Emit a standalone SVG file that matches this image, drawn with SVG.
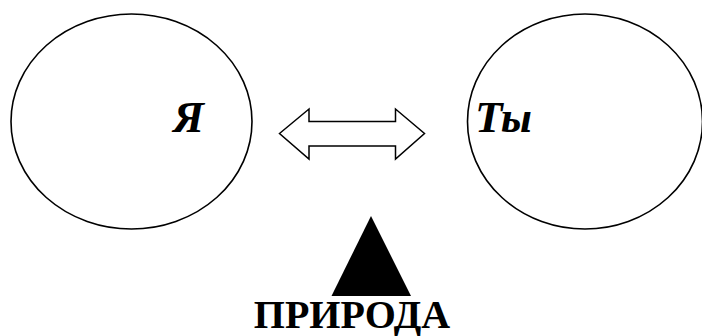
<svg xmlns="http://www.w3.org/2000/svg" width="702" height="336" viewBox="0 0 702 336">
<style>
.ell{fill:none;stroke:#000;stroke-width:1.6}
.lbl{font-family:"Liberation Serif",serif;font-weight:700;font-style:italic;font-size:45px;fill:#000}
.ttl{font-family:"Liberation Serif",serif;font-weight:700;font-size:40px;fill:#000}
</style>
<rect width="702" height="336" fill="#fff"/>
<g id="node-ya">
<ellipse class="ell" cx="131.5" cy="121.5" rx="120.5" ry="107.5"/>
<text class="lbl" x="173" y="132">Я</text>
</g>
<g id="node-ty">
<ellipse class="ell" cx="585" cy="121.5" rx="117.5" ry="107.5"/>
<text class="lbl" x="475" y="132">Ты</text>
</g>
<g id="connectors">
<polygon points="279.5,133.5 309,109 309,121.5 395.5,121.5 395.5,109 424.5,133.5 395.5,159 395.5,146 309,146 309,159" fill="#fff" stroke="#000" stroke-width="1.5"/>
</g>
<g id="node-priroda">
<polygon points="371,216 331.5,296 411,296" fill="#000"/>
<text class="ttl" x="352" y="328" text-anchor="middle">ПРИРОДА</text>
</g>
</svg>
